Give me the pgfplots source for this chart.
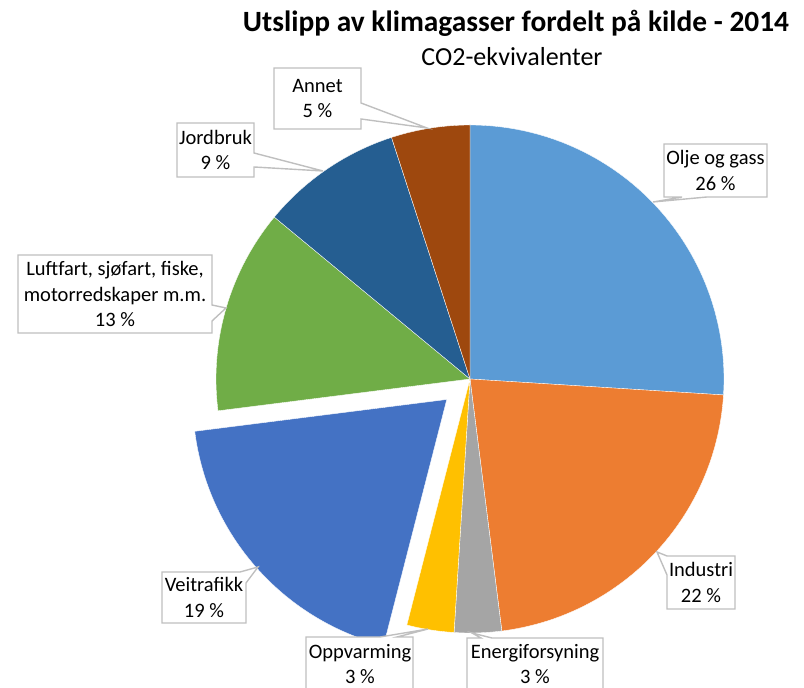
\documentclass[border=0pt]{standalone}
\usepackage{pgfplots}
\pgfplotsset{compat=1.18}
\usepackage{fontspec}
\setmainfont{Carlito}
\definecolor{olje}{HTML}{5B9BD5}
\definecolor{industri}{HTML}{ED7D31}
\definecolor{energi}{HTML}{A5A5A5}
\definecolor{oppv}{HTML}{FFC000}
\definecolor{veitr}{HTML}{4472C4}
\definecolor{luft}{HTML}{70AD47}
\definecolor{jord}{HTML}{255E91}
\definecolor{annet}{HTML}{9E480E}
\definecolor{callgray}{HTML}{BFBFBF}
\begin{document}
\begin{tikzpicture}
% shares in percent, clockwise from 12 o'clock
\def\vOlje{26}\def\vInd{22}\def\vEne{3}\def\vOpp{3}\def\vVei{19}\def\vLuf{13}\def\vJor{9}\def\vAnn{5}
\pgfmathsetmacro{\aA}{90}
\pgfmathsetmacro{\aB}{\aA-3.6*\vOlje}
\pgfmathsetmacro{\aC}{\aB-3.6*\vInd}
\pgfmathsetmacro{\aD}{\aC-3.6*\vEne}
\pgfmathsetmacro{\aE}{\aD-3.6*\vOpp}
\pgfmathsetmacro{\aF}{\aE-3.6*\vVei}
\pgfmathsetmacro{\aG}{\aF-3.6*\vLuf}
\pgfmathsetmacro{\aH}{\aG-3.6*\vJor}
\pgfmathsetmacro{\aI}{\aH-3.6*\vAnn}
\pgfmathsetmacro{\mid}{(\aE+\aF)/2}
\pgfmathsetmacro{\ex}{470+31*cos(\mid)}
\pgfmathsetmacro{\ey}{309+31*sin(\mid)}
\begin{axis}[hide axis, scale only axis, width=804bp, height=688bp,
  xmin=0, xmax=804, ymin=0, ymax=688, clip=false]
\tikzset{slice/.style={draw=white, line width=0.35pt, samples=90, variable=\t}}
\addplot[slice, fill=olje, domain=\aB:\aA] ({470+254*cos(\t)},{309+254*sin(\t)}) -- (470,309) -- cycle;
\addplot[slice, fill=industri, domain=\aC:\aB] ({470+254*cos(\t)},{309+254*sin(\t)}) -- (470,309) -- cycle;
\addplot[slice, fill=energi, domain=\aD:\aC] ({470+254*cos(\t)},{309+254*sin(\t)}) -- (470,309) -- cycle;
\addplot[slice, fill=oppv, domain=\aE:\aD] ({470+254*cos(\t)},{309+254*sin(\t)}) -- (470,309) -- cycle;
\addplot[slice, fill=veitr, domain=\aF:\aE] ({\ex+254*cos(\t)},{\ey+254*sin(\t)}) -- (\ex,\ey) -- cycle;
\addplot[slice, fill=luft, domain=\aG:\aF] ({470+254*cos(\t)},{309+254*sin(\t)}) -- (470,309) -- cycle;
\addplot[slice, fill=jord, domain=\aH:\aG] ({470+254*cos(\t)},{309+254*sin(\t)}) -- (470,309) -- cycle;
\addplot[slice, fill=annet, domain=\aI:\aH] ({470+254*cos(\t)},{309+254*sin(\t)}) -- (470,309) -- cycle;
% callouts
\tikzset{call/.style={draw=callgray, line width=1.4pt, fill=white, line join=miter}}
\draw[call] (274,620) -- (361,620) -- (361,585) -- (427,560) -- (361,569) -- (361,559) -- (274,559) -- cycle;
\draw[call] (177,565) -- (254,565) -- (254,535) -- (323,517) -- (254,521) -- (254,511) -- (177,511) -- cycle;
\draw[call] (18,433) -- (212,433) -- (212,383) -- (226,380) -- (212,367) -- (212,355) -- (18,355) -- cycle;
\draw[call] (664,544) -- (767,544) -- (767,491) -- (707,491) -- (653,486) -- (682,491) -- (664,491) -- cycle;
\draw[call] (162,116) -- (240,116) -- (258,121) -- (246,105) -- (246,65) -- (162,65) -- cycle;
\draw[call] (306,51) -- (380,51) -- (428,59) -- (397,51) -- (413,51) -- (413,-5) -- (306,-5) -- cycle;
\draw[call] (467,50) -- (481,50) -- (472,55) -- (492,50) -- (603,50) -- (603,-5) -- (467,-5) -- cycle;
\draw[call] (667,132) -- (657,136) -- (667,113) -- (667,79) -- (735,79) -- (735,132) -- cycle;
\tikzset{lab/.style={font=\fontsize{20.5bp}{25.5bp}\selectfont, align=center, inner sep=0pt}}
\node[lab] at (317.5,589.5) {Annet\\5 \%};
\node[lab] at (215.5,538) {Jordbruk\\9 \%};
\node[lab] at (115,394) {Luftfart, sjøfart, fiske,\\motorredskaper m.m.\\13 \%};
\node[lab] at (715.5,517.5) {Olje og gass\\26 \%};
\node[lab] at (204,90.5) {Veitrafikk\\19 \%};
\node[lab] at (360,24) {Oppvarming\\3 \%};
\node[lab] at (535,24) {Energiforsyning\\3 \%};
\node[lab] at (701,105.5) {Industri\\22 \%};
\node[font=\fontsize{29.4bp}{31bp}\selectfont\bfseries, inner sep=0pt] at (516,665) {Utslipp av klimagasser fordelt på kilde - 2014};
\node[font=\fontsize{26bp}{28bp}\selectfont, inner sep=0pt] at (512,631) {CO2-ekvivalenter};
\end{axis}
\pgfresetboundingbox
\useasboundingbox (current axis.south west) rectangle (current axis.north east);
\end{tikzpicture}
\end{document}
